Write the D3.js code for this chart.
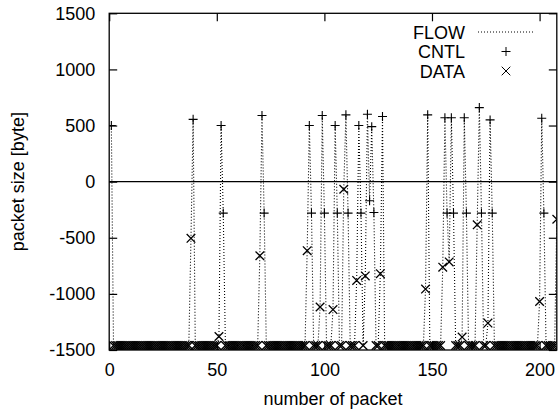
<html>
<head>
    <meta charset="utf-8">
    <style>
        body { margin: 0; background: #ffffff; }
        svg { display: block; font-family: "Liberation Sans", Arial, Helvetica, sans-serif; }
    </style>
    <script src="https://cdn.jsdelivr.net/npm/d3@7"></script>
</head>
<body>
<svg id="Grafico"></svg>

<script>
    // tamaño de cada paquete, paquetes 1..208 (negativo = sentido contrario)
    const packetSize = [
        500, -1460, -1460, -1460, -1460, -1460, -1460, -1460, -1460, -1460,
        -1460, -1460, -1460, -1460, -1460, -1460, -1460, -1460, -1460, -1460,
        -1460, -1460, -1460, -1460, -1460, -1460, -1460, -1460, -1460, -1460,
        -1460, -1460, -1460, -1460, -1460, -1460, -1460, -505, 555, -1460,
        -1460, -1460, -1460, -1460, -1460, -1460, -1460, -1460, -1460, -1460,
        -1380, 500, -280, -1460, -1460, -1460, -1460, -1460, -1460, -1460,
        -1460, -1460, -1460, -1460, -1460, -1460, -1460, -1460, -1460, -660,
        590, -280, -1460, -1460, -1460, -1460, -1460, -1460, -1460, -1460,
        -1460, -1460, -1460, -1460, -1460, -1460, -1460, -1460, -1460, -1460,
        -1460, -615, 500, -280, -1460, -1460, -1460, -1117, 590, -280,
        -1460, -1460, -1460, -1140, 500, -280, -1460, -1460, -68, 595,
        -280, -1460, -1460, -1460, -880, 500, -280, -1460, -840, 600,
        -170, 490, -275, -1460, -1460, -820, 580, -1460, -1460, -1460,
        -1460, -1460, -1460, -1460, -1460, -1460, -1460, -1460, -1460, -1460,
        -1460, -1460, -1460, -1460, -1460, -1460, -957, 595, -1460, -1460,
        -1460, -1460, -1460, -1460, -762, 570, -280, -715, 570, -280,
        -1460, -1460, -1460, -1385, 570, -280, -1460, -1460, -1460, -1460,
        -385, 660, -280, -1460, -1460, -1260, 550, -280, -1460, -1460,
        -1460, -1460, -1460, -1460, -1460, -1460, -1460, -1460, -1460, -1460,
        -1460, -1460, -1460, -1460, -1460, -1460, -1460, -1460, -1460, -1068,
        565, -280, -1460, -1460, -1460, -1460, -1460, -335
    ];

    // paquetes de control (el resto son DATA)
    const cntlPackets = [1, 39, 52, 53, 71, 72, 93, 94, 99, 100, 105, 106, 110, 111,
        116, 117, 120, 121, 122, 123, 127, 148, 156, 157, 159, 160, 165, 166,
        172, 173, 177, 178, 201, 202];

    const xTicks = [0, 50, 100, 150, 200];
    const yTicks = [-1500, -1000, -500, 0, 500, 1000, 1500];
    const legendLabels = ["FLOW", "CNTL", "DATA"];

    let ancho = 558, alto = 409;
    let margenes = { top: 13.3, bottom: 59, left: 109.2, right: 1.2 };

    let svg = d3.select("#Grafico").attr("width", ancho).attr("height", alto);

    let paquetes = packetSize.map((v, i) => ({
        n: i + 1,
        size: v,
        tipo: cntlPackets.includes(i + 1) ? "CNTL" : "DATA"
    }));

    let escalaX = d3.scaleLinear()
        .domain([0, 208])
        .range([margenes.left, ancho - margenes.right]);

    let escalaY = d3.scaleLinear()
        .domain([-1500, 1500])
        .range([alto - margenes.bottom, margenes.top]);

    let fuente = 18;

    // recorte del area de dibujo
    svg.append("clipPath").attr("id", "recorte")
        .append("rect")
        .attr("x", margenes.left).attr("y", margenes.top)
        .attr("width", escalaX.range()[1] - margenes.left)
        .attr("height", escalaY.range()[0] - margenes.top);

    // ejes con marcas hacia dentro en los cuatro lados
    function dibujarEjes() {
        let formato = d => String(d);
        let ejeIzq = d3.axisLeft(escalaY).tickValues(yTicks).tickSize(-8).tickPadding(14).tickFormat(formato);
        let ejeDer = d3.axisRight(escalaY).tickValues(yTicks).tickSize(-8).tickFormat("");
        let ejeAbajo = d3.axisBottom(escalaX).tickValues(xTicks).tickSize(-8).tickPadding(20).tickFormat(formato);
        let ejeArriba = d3.axisTop(escalaX).tickValues(xTicks).tickSize(-8).tickFormat("");

        let g1 = svg.append("g").attr("transform", `translate(${margenes.left},0)`).call(ejeIzq);
        let g2 = svg.append("g").attr("transform", `translate(${escalaX.range()[1]},0)`).call(ejeDer);
        let g3 = svg.append("g").attr("transform", `translate(0,${escalaY.range()[0]})`).call(ejeAbajo);
        let g4 = svg.append("g").attr("transform", `translate(0,${margenes.top})`).call(ejeArriba);

        [g1, g2, g3, g4].forEach(g => {
            g.select(".domain").remove();
            g.selectAll("line").attr("stroke", "#000").attr("stroke-width", 1.2);
            g.selectAll("text")
                .attr("fill", "#000")
                .style("font-size", fuente + "px")
                .style("font-family", "'Liberation Sans', Arial, sans-serif");
        });
        g3.selectAll("text").attr("dy", "0.35em");
    }

    function dibujarFlujo() {
        let linea = d3.line()
            .x(d => escalaX(d.n))
            .y(d => escalaY(d.size));

        svg.append("path")
            .datum(paquetes)
            .attr("clip-path", "url(#recorte)")
            .attr("d", linea)
            .attr("fill", "none")
            .attr("stroke", "#000")
            .attr("stroke-width", 1.1)
            .attr("stroke-dasharray", "1,2");
    }

    function marcaMas(cx, cy, r) {
        return `M${cx - r},${cy}H${cx + r}M${cx},${cy - r}V${cy + r}`;
    }

    function marcaCruz(cx, cy, r) {
        return `M${cx - r},${cy - r}L${cx + r},${cy + r}M${cx - r},${cy + r}L${cx + r},${cy - r}`;
    }

    function dibujarPuntos() {
        let g = svg.append("g").attr("clip-path", "url(#recorte)");

        g.selectAll(".data")
            .data(paquetes.filter(d => d.tipo == "DATA"))
            .enter().append("path")
            .attr("class", "data")
            .attr("d", d => marcaCruz(escalaX(d.n), escalaY(d.size), 4.3))
            .attr("fill", "none")
            .attr("stroke", "#000")
            .attr("stroke-width", 1.3);

        g.selectAll(".cntl")
            .data(paquetes.filter(d => d.tipo == "CNTL"))
            .enter().append("path")
            .attr("class", "cntl")
            .attr("d", d => marcaMas(escalaX(d.n), escalaY(d.size), 4.5))
            .attr("fill", "none")
            .attr("stroke", "#000")
            .attr("stroke-width", 1.1);
    }

    function dibujarMarco() {
        // linea del cero
        svg.append("line")
            .attr("x1", escalaX.range()[0]).attr("x2", escalaX.range()[1])
            .attr("y1", escalaY(0)).attr("y2", escalaY(0))
            .attr("stroke", "#000").attr("stroke-width", 1.3);

        svg.append("rect")
            .attr("x", margenes.left).attr("y", margenes.top)
            .attr("width", escalaX.range()[1] - margenes.left)
            .attr("height", escalaY.range()[0] - margenes.top)
            .attr("fill", "none")
            .attr("stroke", "#000")
            .attr("stroke-width", 1.3);
    }

    function dibujarTitulos() {
        svg.append("text")
            .attr("x", (escalaX.range()[0] + escalaX.range()[1]) / 2)
            .attr("y", 405)
            .attr("text-anchor", "middle")
            .style("font-size", fuente + "px")
            .text("number of packet");

        svg.append("text")
            .attr("transform", `translate(24,${escalaY(0)}) rotate(-90)`)
            .attr("text-anchor", "middle")
            .style("font-size", fuente + "px")
            .text("packet size [byte]");
    }

    function dibujarLeyenda() {
        let xTexto = 465, xMuestra = 506;
        let filas = [32, 51.5, 71];
        let g = svg.append("g");

        legendLabels.forEach((etiqueta, i) => {
            g.append("text")
                .attr("x", xTexto)
                .attr("y", filas[i] + 6.5)
                .attr("text-anchor", "end")
                .style("font-size", fuente + "px")
                .text(etiqueta);
        });

        g.append("line")
            .attr("x1", 478).attr("x2", 535)
            .attr("y1", filas[0]).attr("y2", filas[0])
            .attr("stroke", "#000").attr("stroke-width", 1)
            .attr("stroke-dasharray", "1,2");

        g.append("path").attr("d", marcaMas(xMuestra, filas[1], 4.5))
            .attr("stroke", "#000").attr("fill", "none");
        g.append("path").attr("d", marcaCruz(xMuestra, filas[2], 4.3))
            .attr("stroke", "#000").attr("fill", "none");
    }

    dibujarFlujo();
    dibujarPuntos();
    dibujarMarco();
    dibujarEjes();
    dibujarTitulos();
    dibujarLeyenda();
</script>
</body>
</html>
